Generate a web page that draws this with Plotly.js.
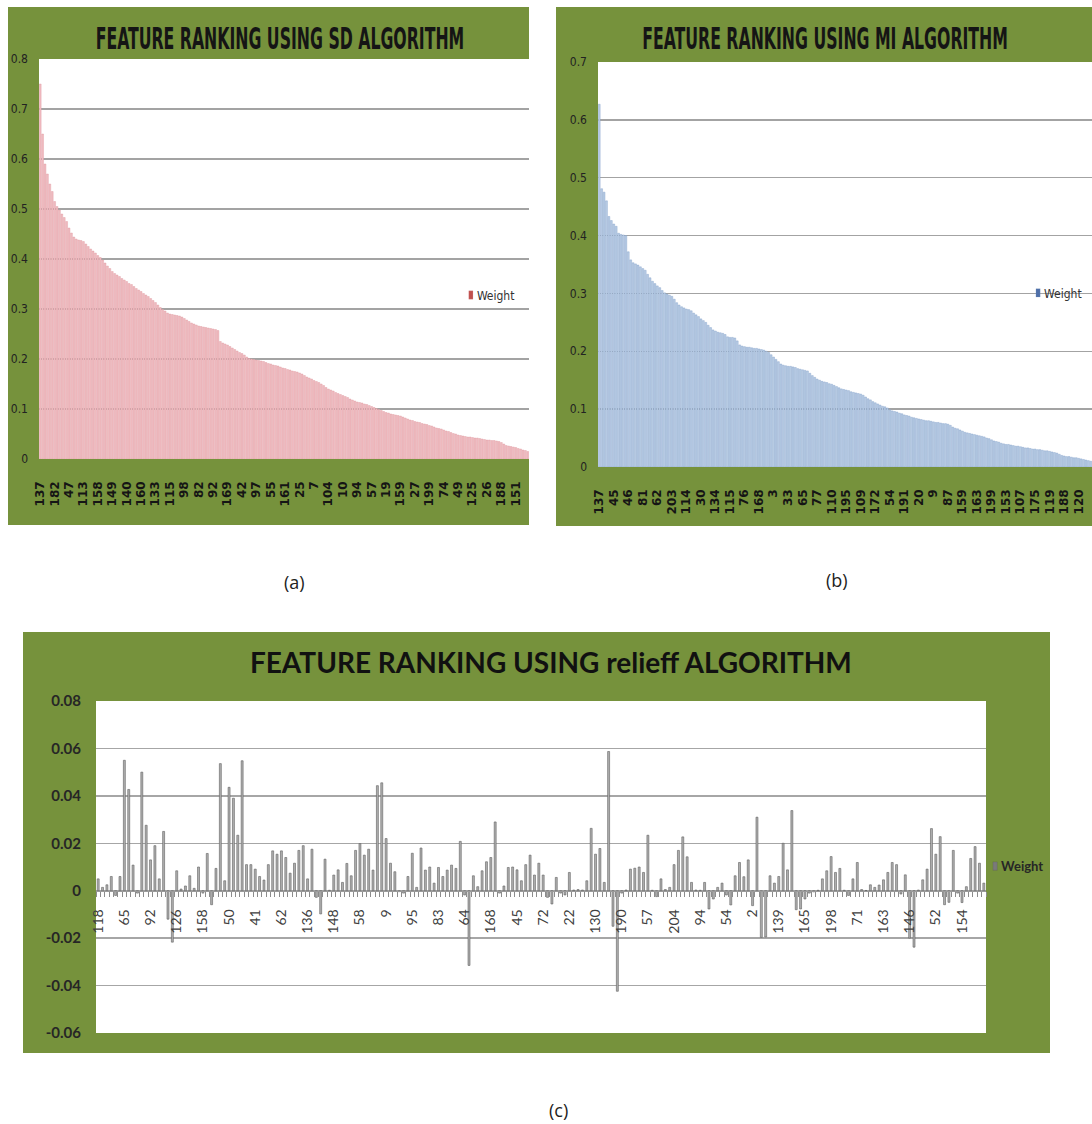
<!DOCTYPE html>
<html><head><meta charset="utf-8">
<script src="https://cdn.plot.ly/plotly-3.0.1.min.js"></script>
<style>
html,body{margin:0;padding:0;background:#fff;width:1092px;height:1124px;overflow:hidden;position:relative;}
.chart{position:absolute;}
.cap{position:absolute;font-family:'Open Sans',sans-serif;font-size:18px;color:#222;line-height:24px;}
.legendpoints path{transform:translate(34px,0px) scale(0.35,0.7);}
#sd .legendpoints path{fill:#c0504d !important;}
#mi .legendpoints path{fill:#4f6fa8 !important;}
#rf .legendpoints path{fill:#7a7a7a !important;}
</style></head><body>
<div id="sd" class="chart" style="left:8px;top:7px;width:521px;height:518px"></div>
<div id="mi" class="chart" style="left:556px;top:7px;width:536px;height:519px"></div>
<div id="rf" class="chart" style="left:23px;top:632px;width:1027px;height:421px"></div>
<div class="cap" style="left:284px;top:570px">(a)</div>
<div class="cap" style="left:826px;top:568px">(b)</div>
<div class="cap" style="left:549px;top:1098px">(c)</div>
<script>
const sdLabels = [137,182,47,113,158,149,140,160,133,115,98,82,92,169,42,97,55,161,25,7,104,10,94,57,19,159,27,199,74,49,125,26,188,151];
const sdWeights = [0.75,0.65,0.59,0.57,0.55,0.535,0.515,0.505,0.498,0.49,
0.483,0.475,0.462,0.452,0.444,0.44,0.438,0.437,0.435,0.43,
0.425,0.42,0.416,0.412,0.407,0.403,0.398,0.392,0.386,0.381,
0.375,0.371,0.368,0.365,0.361,0.358,0.355,0.351,0.349,0.345,
0.341,0.338,0.335,0.331,0.328,0.325,0.321,0.317,0.313,0.308,
0.303,0.299,0.296,0.292,0.29,0.289,0.288,0.287,0.286,0.284,
0.281,0.278,0.275,0.272,0.27,0.268,0.266,0.265,0.264,0.263,
0.262,0.261,0.26,0.259,0.257,0.235,0.232,0.23,0.228,0.225,
0.222,0.219,0.216,0.213,0.211,0.208,0.204,0.201,0.2,0.199,
0.198,0.197,0.196,0.195,0.193,0.191,0.19,0.188,0.187,0.186,
0.184,0.182,0.181,0.179,0.178,0.176,0.175,0.174,0.172,0.17,
0.167,0.164,0.162,0.16,0.157,0.155,0.153,0.15,0.147,0.143,
0.14,0.138,0.136,0.133,0.131,0.129,0.127,0.125,0.123,0.12,
0.118,0.116,0.114,0.113,0.112,0.11,0.109,0.107,0.105,0.103,
0.101,0.099,0.097,0.095,0.093,0.092,0.09,0.089,0.088,0.087,
0.086,0.084,0.082,0.08,0.078,0.077,0.075,0.074,0.073,0.071,
0.07,0.069,0.067,0.066,0.064,0.062,0.061,0.06,0.058,0.056,
0.055,0.053,0.051,0.05,0.048,0.047,0.046,0.045,0.044,0.044,
0.043,0.042,0.042,0.041,0.04,0.039,0.038,0.038,0.037,0.037,
0.036,0.035,0.033,0.03,0.027,0.026,0.025,0.024,0.023,0.021,
0.02,0.018,0.017,0.015];

const miLabels = [137,45,46,81,62,203,114,30,134,115,76,168,3,33,65,77,110,195,109,172,54,191,20,9,87,159,163,199,153,107,175,119,188,120];
const miWeights = [0.627,0.481,0.475,0.46,0.433,0.426,0.42,0.416,0.404,0.402,
0.401,0.4,0.372,0.358,0.353,0.351,0.349,0.346,0.343,0.34,
0.333,0.327,0.321,0.317,0.313,0.31,0.305,0.301,0.299,0.297,
0.295,0.29,0.284,0.28,0.277,0.275,0.273,0.272,0.27,0.266,
0.263,0.26,0.256,0.253,0.25,0.245,0.241,0.237,0.235,0.233,
0.232,0.231,0.229,0.225,0.224,0.224,0.223,0.218,0.211,0.209,
0.208,0.207,0.207,0.206,0.205,0.205,0.204,0.203,0.202,0.2,
0.198,0.194,0.19,0.186,0.182,0.178,0.176,0.175,0.174,0.174,
0.173,0.172,0.17,0.169,0.168,0.167,0.166,0.162,0.158,0.155,
0.152,0.15,0.148,0.147,0.146,0.144,0.143,0.141,0.139,0.137,
0.135,0.134,0.133,0.132,0.13,0.129,0.128,0.127,0.126,0.124,
0.121,0.118,0.116,0.113,0.111,0.109,0.107,0.105,0.104,0.102,
0.099,0.097,0.096,0.095,0.093,0.092,0.09,0.089,0.088,0.086,
0.085,0.084,0.083,0.082,0.081,0.08,0.08,0.079,0.078,0.077,
0.077,0.076,0.075,0.075,0.074,0.072,0.069,0.067,0.066,0.064,
0.062,0.06,0.059,0.058,0.057,0.056,0.055,0.054,0.053,0.052,
0.05,0.049,0.047,0.045,0.044,0.043,0.041,0.04,0.039,0.039,
0.038,0.037,0.036,0.036,0.035,0.034,0.033,0.033,0.032,0.031,
0.031,0.03,0.03,0.029,0.028,0.028,0.027,0.026,0.025,0.024,
0.022,0.02,0.019,0.018,0.018,0.017,0.016,0.016,0.015,0.014,
0.013,0.012,0.011,0.01];

const reliefLabels = [118,65,92,126,158,50,41,62,136,148,58,9,95,83,64,168,45,72,22,130,190,57,204,94,54,2,139,165,198,71,163,146,52,154];
const reliefWeights = [0.005,0.0014,0.0025,0.006,-0.002,0.006,0.055,0.0427,0.0108,-0.001,
0.05,0.0276,0.013,0.019,0.005,0.025,-0.012,-0.0217,0.0084,0.0007,
0.002,0.0063,0.001,0.01,-0.001,0.0157,-0.0059,0.0094,0.0536,0.0042,
0.0436,0.039,0.0234,0.0548,0.011,0.011,0.0091,0.006,0.0045,0.011,
0.0168,0.0154,0.0168,0.014,0.0074,0.0116,0.017,0.019,0.005,0.0175,
-0.0028,-0.0098,0.0133,0.0002,0.0066,0.0088,0.0035,0.0115,0.0063,0.017,
0.0199,0.015,0.0175,0.0087,0.0443,0.0455,0.022,0.0116,0.008,-0.0004,
-0.001,0.006,0.0158,0.0014,0.018,0.0087,0.01,0.0032,0.0098,0.006,
0.0087,0.0108,0.0094,0.0208,-0.0018,-0.0315,0.0063,0.0017,0.0084,0.0122,
0.014,0.029,-0.001,0.002,0.0098,0.01,0.0088,0.0042,0.011,0.015,
0.0066,0.0116,0.0066,-0.0028,-0.0056,0.0056,-0.001,-0.0018,0.0077,0.0003,
0.0005,0.0003,0.0042,0.0263,0.0154,0.0178,0.0035,0.0587,-0.015,-0.0424,
-0.001,0.0003,0.0091,0.0095,0.01,0.0077,0.0234,0.0002,-0.0025,0.005,
0.0005,0.0014,0.011,0.017,0.0227,0.0143,0.0035,0.0003,0.0002,0.0035,
-0.0077,-0.0035,0.0014,0.0032,-0.0018,-0.006,0.0063,0.0119,0.0059,0.013,
-0.0063,0.031,-0.0197,-0.0195,0.0063,0.0032,0.006,0.02,0.0088,0.0338,
-0.008,-0.0077,-0.0035,-0.001,-0.0005,0.0002,0.005,0.0084,0.0144,0.0077,
0.0094,0.0002,-0.002,0.005,0.0119,0.0005,0.0001,0.0025,0.0014,0.0024,
0.0046,0.0077,0.0119,0.011,-0.0014,0.0067,-0.02,-0.0238,0.0003,0.0046,
0.0091,0.0262,0.0154,0.0228,-0.0059,-0.0049,0.017,-0.001,-0.005,0.0017,
0.0136,0.0186,0.0116,0.0032];
const reliefTickVals = [-0.06,-0.04,-0.02,0,0.02,0.04,0.06,0.08];
const reliefTickText = ['-0.06','-0.04','-0.02','0','0.02','0.04','0.06','0.08'];

const GREEN = '#76923c';
const LABEL_STEP = 6;
const narrow = "'DejaVu Sans Condensed','Liberation Sans Narrow',sans-serif";
const cfg = {staticPlot:true, displayModeBar:false};

function idx(arr){ return arr.map((v,i)=>i); }
function tickPos(labels){ return labels.map((l,k)=>k*LABEL_STEP); }

function topChart(id, w, h, margin, titleText, titleX, values, labels, yMax, fill, edge, legendXY){
  const trace = {type:'bar', x: idx(values), y: values, name:'Weight', showlegend:true,
    marker:{color:fill, line:{color:edge, width:0.4}}};
  const layout = {
    width:w, height:h, paper_bgcolor:GREEN, plot_bgcolor:'#ffffff',
    margin:Object.assign({pad:0, autoexpand:false}, margin),
    bargap:0.22,
    title:{text:titleText, x:titleX, xanchor:'center', xref:'container', y:1-32/h, yref:'container', yanchor:'middle',
      font:{family:narrow, size:17.5, color:'#151515', weight:'bold'}},
    xaxis:{range:[-0.5, values.length-0.5], tickmode:'array', tickvals:tickPos(labels), ticktext:labels.map(String),
      tickangle:-90, ticks:'', showgrid:false, zeroline:false, showline:false, ticklabelstandoff:19,
      tickfont:{family:"'DejaVu Sans',sans-serif", size:12, color:'#151515', weight:'bold'}},
    yaxis:{range:[0,yMax], dtick:0.1, tick0:0, showgrid:true, gridcolor:'#a3a3a3', gridwidth:1.5, zeroline:false, showline:false,
      ticks:'', ticklabelstandoff:10, tickfont:{family:narrow, size:12, color:'#222'}},
    showlegend:true,
    legend:{x:legendXY[0], y:legendXY[1], xanchor:'left', yanchor:'middle', bgcolor:'rgba(0,0,0,0)',
      font:{family:narrow, size:12, color:'#333'}}
  };
  return Plotly.newPlot(id, [trace], layout, cfg);
}

function stretchTitle(id, sy){
  const gd = document.getElementById(id);
  const t = gd.querySelector('.gtitle');
  if(!t) return;
  const b = t.getBBox();
  const cy = b.y + b.height/2;
  t.setAttribute('transform', 'translate(0 '+cy+') scale(1 '+sy+') translate(0 '+(-cy)+')');
}

topChart('sd', 521, 518, {l:31, r:0, t:52, b:66}, 'FEATURE RANKING USING SD ALGORITHM', 0.522,
  sdWeights, sdLabels, 0.8, '#f0bcc1', '#df97a0', [0.812, 0.41]).then(()=>stretchTitle('sd',1.7));

topChart('mi', 536, 519, {l:42, r:0, t:55, b:59}, 'FEATURE RANKING USING MI ALGORITHM', 0.502,
  miWeights, miLabels, 0.7, '#b9cde5', '#7f9cc8', [0.822, 0.43]).then(()=>stretchTitle('mi',1.7));

(function(){
  const trace = {type:'bar', x: idx(reliefWeights), y: reliefWeights, name:'Weight', showlegend:true,
    marker:{color:'#b0b0b0', line:{color:'#5f5f5f', width:0.6}}};
  const h = 421;
  const layout = {
    width:1027, height:h, paper_bgcolor:GREEN, plot_bgcolor:'#ffffff',
    margin:{l:73, r:64, t:69, b:20, pad:0, autoexpand:false},
    bargap:0.55,
    title:{text:'FEATURE RANKING USING relieff ALGORITHM', x:0.514, xanchor:'center', xref:'container', y:1-31/h, yref:'container', yanchor:'middle',
      font:{family:"Lato,'Open Sans',sans-serif", size:28, color:'#111', weight:'bold'}},
    xaxis:{range:[-0.5, reliefWeights.length-0.5], anchor:'free', position:0.06/0.14, tickmode:'array',
      tickvals:tickPos(reliefLabels), ticktext:reliefLabels.map(String), tickangle:-90, ticks:'',
      showgrid:false, zeroline:false, showline:true, linecolor:'#9a9a9a', linewidth:1, ticklabelstandoff:12,
      minor:{tickmode:'linear', tick0:0.5, dtick:1, ticks:'outside', ticklen:5, tickcolor:'#8c8c8c', tickwidth:1, showgrid:false},
      tickfont:{family:"Lato,'Open Sans',sans-serif", size:14, color:'#404040'}},
    yaxis:{range:[-0.06,0.08], tickmode:'array', tickvals:reliefTickVals, ticktext:reliefTickText,
      showgrid:true, gridcolor:'#a6a6a6', gridwidth:1.5, zeroline:false, showline:false, ticks:'', ticklabelstandoff:14,
      tickfont:{family:"Lato,'Open Sans',sans-serif", size:15, color:'#262626', weight:'bold'}},
    showlegend:true,
    legend:{x:0.972, y:0.5026, xanchor:'left', yanchor:'middle', bgcolor:'rgba(0,0,0,0)',
      font:{family:"Lato,'Open Sans',sans-serif", size:13, color:'#262626', weight:'bold'}}
  };
  Plotly.newPlot('rf', [trace], layout, cfg);
})();
</script>
</body></html>
